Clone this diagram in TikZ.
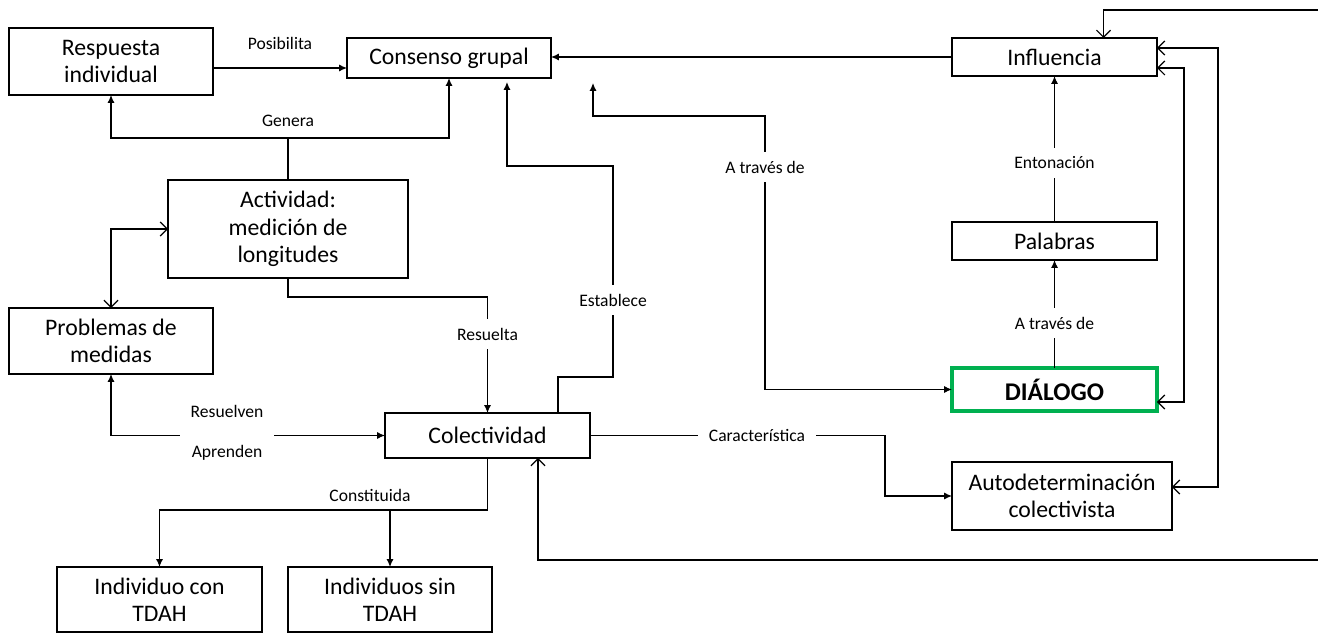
\documentclass[tikz,border=0pt]{standalone}
\usepackage{fontspec}
\setmainfont{Carlito}
\usepackage{xcolor}
\usetikzlibrary{arrows.meta}
\definecolor{verdedialogo}{RGB}{0,176,80}

\begin{document}
\begin{tikzpicture}[x=0.02cm,y=-0.02cm]

        \tikzstyle{caja}=[draw,line width=0.85pt,inner sep=1pt,outer sep=0pt,align=center,font=\fontsize{13.5}{15.5}\selectfont]
        \tikzstyle{etiq}=[inner sep=1pt,font=\fontsize{10}{12}\selectfont]
        \tikzstyle{corte}=[etiq,fill=white,inner xsep=6pt,inner ysep=5pt]
        \tikzstyle{flecha}=[line width=0.7pt,-{Latex[length=4.5pt,width=4pt]}]
        \tikzstyle{flechados}=[line width=0.7pt,{Latex[length=4.5pt,width=4pt]}-{Latex[length=4.5pt,width=4pt]}]
        \tikzstyle{abierta}=[line width=0.7pt,{Straight Barb[length=4pt,width=8pt]}-{Straight Barb[length=4pt,width=8pt]}]

        \useasboundingbox (0,0) rectangle (1318,638);

        %% Conceptos
        \node[caja,minimum width=4.08cm,minimum height=1.34cm] (resp) at (111,61.5) {Respuesta\\individual};
        \node[caja,minimum width=4.08cm,minimum height=0.8cm] (cons) at (449,58) {Consenso grupal};
        \node[caja,minimum width=4.1cm,minimum height=0.76cm] (infl) at (1054.5,57) {Influencia};
        \node[caja,minimum width=4.8cm,minimum height=1.96cm] (activ) at (288,229) {Actividad:\\medición de\\longitudes};
        \node[caja,minimum width=4.1cm,minimum height=0.76cm] (palab) at (1054.5,241) {Palabras};
        \node[caja,minimum width=4.08cm,minimum height=1.32cm] (probl) at (111,341) {Problemas de\\medidas};
        \node[caja,draw=verdedialogo,line width=2.1pt,minimum width=4.1cm,minimum height=0.86cm,font=\fontsize{14.5}{16}\selectfont\bfseries] (dialogo) at (1054.5,389.5) {DIÁLOGO};
        \node[caja,minimum width=4.1cm,minimum height=0.9cm] (colect) at (487.5,435.5) {Colectividad};
        \node[caja,minimum width=4.4cm,minimum height=1.36cm] (autod) at (1062,496) {Autodeterminación\\colectivista};
        \node[caja,minimum width=4.1cm,minimum height=1.3cm] (indcon) at (159.5,599.5) {Individuo con\\TDAH};
        \node[caja,minimum width=4.08cm,minimum height=1.3cm] (indsin) at (390,599.5) {Individuos sin\\TDAH};

        %% Puntos de paso
        \coordinate (gen) at (288,138);
        \coordinate (cst) at (487.5,510);
        \coordinate (atr) at (593,83);

        %% Conectores
        \draw[flecha] ([yshift=-0.2cm]cons.west -| resp.east) -- ([yshift=-0.2cm]cons.west)
            node[etiq,midway,above=0.32cm] (posib) {Posibilita};
        \draw[line width=0.7pt] (activ.north) -- (gen);
        \draw[flecha] (gen) -| (resp.south);
        \draw[flecha] (gen) -| (cons.south);
        \node[etiq,above=0.18cm] (genera) at (gen) {Genera};
        \draw[abierta] (probl.north) |- (activ.west);
        \draw[flecha] (activ.south) -- ++(0,19) -| (colect.north);
        \draw[flecha] ([xshift=1.41cm]colect.north) |- (613,377) -- (613,166) -| ([xshift=1.16cm,yshift=-0.08cm]cons.south);
        \draw[flechados] (atr) |- (765,116) |- (dialogo.west);
        \draw[flecha] (infl.west) -- (infl.west -| cons.east);
        \draw[flecha] (palab.north) -- (infl.south);
        \draw[flecha] (dialogo.north) -- (palab.south);
        \draw[flecha] (colect.east) -- ++(295,0) |- (autod.west);
        \draw[abierta] ([xshift=0.98cm]infl.north) |- (1330,10) -- (1330,560) -| ([xshift=1.01cm]colect.south);
        \draw[abierta] ([yshift=0.18cm]infl.east) -- ++(61,0) |- ([yshift=0.18cm]autod.east);
        \draw[abierta] ([yshift=-0.22cm]infl.east) -- ++(27,0) |- ([yshift=-0.25cm]dialogo.east);
        \draw[line width=0.7pt] (colect.south) -- (cst);
        \draw[flecha] (cst) -| (indcon.north);
        \draw[flecha] (cst) -| (indsin.north);
        \node[etiq] (constit) at (370,495) {Constituida};
        \draw[flechados] (colect.west) -| (probl.south);

        %% Etiquetas que cortan la linea
        \node[corte] (resuelta) at (487.5,334) {Resuelta};
        \node[corte] (establece) at (613,300) {Establece};
        \node[corte] (atraves) at (765,167) {A través de};
        \node[corte] (entona) at (1054.5,163) {Entonación};
        \node[corte] (atraves2) at (1054.5,323) {A través de};
        \node[corte] (caract) at (757,435.5) {Característica};
        \node[corte,align=center,font=\fontsize{10}{23}\selectfont] (resap) at (227,433) {Resuelven\\Aprenden};

\end{tikzpicture}
\end{document}
